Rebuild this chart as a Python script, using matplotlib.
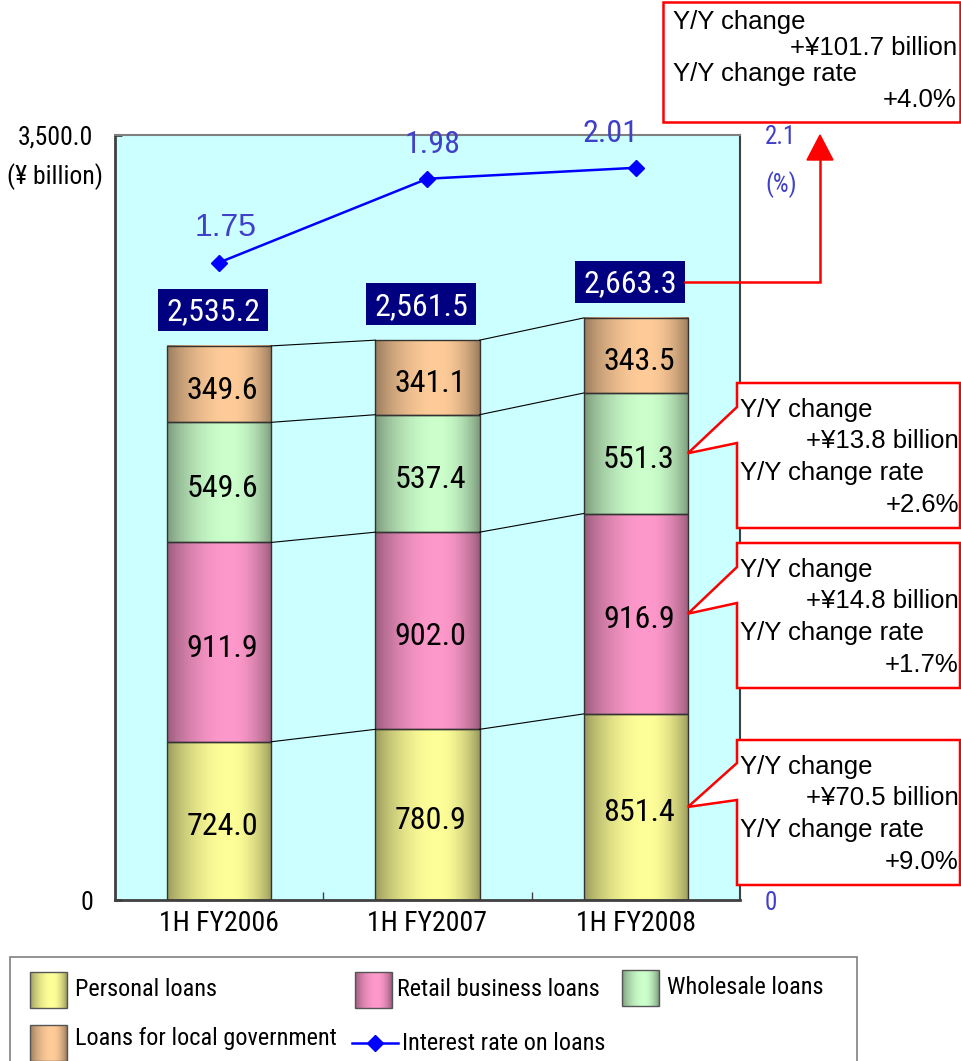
import matplotlib
matplotlib.use("Agg")
import matplotlib.pyplot as plt
import numpy as np
from matplotlib import font_manager
from matplotlib.patches import Rectangle, Polygon

categories = ["1H FY2006", "1H FY2007", "1H FY2008"]
personal = [724.0, 780.9, 851.4]
retail = [911.9, 902.0, 916.9]
wholesale = [549.6, 537.4, 551.3]
local_gov = [349.6, 341.1, 343.5]
totals = [2535.2, 2561.5, 2663.3]
rates = [1.75, 1.98, 2.01]

series_names = ["Personal loans", "Retail business loans", "Wholesale loans",
                "Loans for local government"]
series_colors = ["#FFFF99", "#FF99CC", "#CCFFCC", "#FFCC99"]
line_name = "Interest rate on loans"

# year-on-year notes for the latest half
total_note = ["+\u00a5101.7 billion", "+4.0%"]
wholesale_note = ["+\u00a513.8 billion", "+2.6%"]
retail_note = ["+\u00a514.8 billion", "+1.7%"]
personal_note = ["+\u00a570.5 billion", "+9.0%"]

# pick the narrowest sans available for numbers and labels
fonts = font_manager.fontManager.ttflist
names = {f.name for f in fonts}
NARROW = None
for cand in ["Liberation Sans Narrow", "Arial Narrow", "Roboto Condensed",
             "Open Sans Condensed", "Noto Sans Condensed"]:
    if cand in names:
        NARROW = dict(family=cand)
        break
if NARROW is None:
    NARROW = dict(family="DejaVu Sans", stretch="condensed")
SANS = dict(family="Liberation Sans")
BLUE_TXT = "#4040C8"

W, H = 962, 1061


def shade(color, n=80):
    # cylinder-like horizontal shading: dark at both edges, light a bit right of centre
    rgb = np.array(matplotlib.colors.to_rgb(color))
    t = np.linspace(0, 1, n)
    u = np.where(t < 0.6, t / 0.6, (1 - t) / 0.4)
    s = np.sin(u * np.pi / 2) ** 0.8
    k = 0.6 + 0.4 * s
    return (rgb[None, :] * k[:, None])[None, :, :]


fig = plt.figure(figsize=(W / 100, H / 100), dpi=100)
ax = fig.add_axes([115 / W, 1 - 900 / H, 625 / W, 765 / H])
ax.set_facecolor("#CCFFFF")

x = np.arange(len(categories))
bw = 0.5
bottoms = np.zeros(len(categories))
levels = []
for vals, color in zip([personal, retail, wholesale, local_gov], series_colors):
    vals = np.array(vals)
    ax.bar(x, vals, bw, bottom=bottoms, facecolor="none", edgecolor="#333333",
           lw=1, zorder=3)
    for xi, b, v in zip(x, bottoms, vals):
        ax.imshow(shade(color), extent=(xi - bw / 2, xi + bw / 2, b, b + v),
                  aspect="auto", interpolation="bilinear", zorder=2)
        ax.annotate(f"{v:.1f}", (xi, b + v / 2), xytext=(3, -6),
                    textcoords="offset pixels", ha="center", va="center",
                    fontsize=23, zorder=4, **NARROW)
    bottoms = bottoms + vals
    levels.append(bottoms.copy())

# thin connectors between stacked levels of neighbouring bars
for lev in levels:
    for i in range(len(x) - 1):
        ax.plot([x[i] + bw / 2, x[i + 1] - bw / 2], [lev[i], lev[i + 1]],
                color="black", lw=0.8, zorder=3)

ax.set_xlim(-0.5, 2.5)
ax.set_ylim(0, 3500)
ax.set_xticks(x)
ax.set_xticklabels(categories, fontsize=20, **NARROW)
ax.set_xticks([0.5, 1.5], minor=True)
ax.tick_params(axis="x", which="major", length=0, pad=7)
ax.tick_params(axis="x", which="minor", direction="in", length=6, width=1,
               color="#404040")
ax.set_yticks([0, 3500])
ax.set_yticklabels(["0", "3,500.0"], fontsize=18.5, **NARROW)
ax.tick_params(axis="y", direction="in", length=5, width=2, color="#404040",
               pad=16)
for side, c, w in [("left", "#404040", 2), ("bottom", "#404040", 2),
                   ("top", "#808080", 1.5), ("right", "#404040", 1.5)]:
    ax.spines[side].set_color(c)
    ax.spines[side].set_linewidth(w)

ax2 = ax.twinx()
ax2.set_ylim(0, 2.1)
ax2.plot(x, rates, color="#0000FF", lw=1.8, marker="D", ms=8, zorder=5)
offsets = [(6, 34), (5, 34), (-25, 34)]
for xi, r, off in zip(x, rates, offsets):
    fam = SANS if xi == 0 else NARROW
    ax2.annotate(f"{r:.2f}", (xi, r), xytext=off, textcoords="offset pixels",
                 ha="center", va="center", fontsize=23,
                 color=BLUE_TXT, annotation_clip=False, **fam)
ax2.set_yticks([0, 2.1])
ax2.set_yticklabels(["0", "2.1"], fontsize=18, color=BLUE_TXT, **NARROW)
ax2.tick_params(axis="y", length=0, pad=18)
for s in ax2.spines.values():
    s.set_visible(False)

# overlay in image pixel coordinates for notes, boxes and legend
ov = fig.add_axes([0, 0, 1, 1], zorder=10)
ov.patch.set_alpha(0)
ov.axis("off")


def to_px(axis, xv, yv):
    dx, dy = axis.transData.transform((xv, yv))
    return dx, H - dy


fig.text(55 / W, 1 - 177 / H, "(\u00a5 billion)", ha="center", va="center",
         fontsize=18.5, **NARROW)
fig.text(781 / W, 1 - 185 / H, "(%)", ha="center", va="center", fontsize=18,
         color=BLUE_TXT, **NARROW)

# total labels on navy boxes
total_boxes = []
for xi, t in zip(x, totals):
    cx, cy = to_px(ax, xi, t)
    cx, cy = cx - 6, cy - 36
    ov.add_patch(Rectangle((cx - 55, cy - 21), 110, 42, fc="#000080", ec="none"))
    ov.text(cx, cy + 2, f"{t:,.1f}", ha="center", va="center", color="white",
            fontsize=23, **NARROW)
    total_boxes.append((cx, cy))

RED = "#FF0000"
# total change note with arrow
bx, by = total_boxes[-1]
ov.plot([bx + 55, 820, 820], [by, by, 158], color=RED, lw=1.8,
        solid_joinstyle="miter")
ov.add_patch(Polygon([(807, 160), (833, 160), (820, 135)], closed=True,
                     fc=RED, ec=RED, lw=1))
ov.add_patch(Rectangle((663, 2), 297, 120, fc="white", ec=RED, lw=1.8))
for k, (txt, dy) in enumerate(zip(["Y/Y change", total_note[0],
                                   "Y/Y change rate", total_note[1]],
                                  [22, 48, 74, 100])):
    ov.text(673 if k % 2 == 0 else 957, dy, txt, ha="left" if k % 2 == 0 else "right",
            va="center", fontsize=18.5, **SANS)


def callout(top, wtop, wbot, tip, note):
    left, right = 737, 960
    ov.add_patch(Polygon([(left, top), (right, top), (right, top + 145),
                          (left, top + 145), (left, wbot), tip, (left, wtop)],
                         closed=True, fc="white", ec=RED, lw=1.8,
                         joinstyle="miter"))
    lines = ["Y/Y change", note[0], "Y/Y change rate", note[1]]
    for k, (txt, dy) in enumerate(zip(lines, [27, 58, 90, 122])):
        ov.text(740 if k % 2 == 0 else 959, top + dy, txt,
                ha="left" if k % 2 == 0 else "right", va="center",
                fontsize=18.5, **SANS)


mids = [personal[2] / 2,
        personal[2] + retail[2] / 2,
        personal[2] + retail[2] + wholesale[2] / 2]
callout(383, 407, 443, to_px(ax, x[2] + bw / 2, mids[2]), wholesale_note)
callout(543, 567, 603, to_px(ax, x[2] + bw / 2, mids[1]), retail_note)
callout(740, 763, 800, to_px(ax, x[2] + bw / 2, mids[0]), personal_note)

# legend
ov.add_patch(Rectangle((10, 957), 847, 120, fc="white", ec="#808080", lw=1.2))
leg_pos = [(30, 972, 75, 990), (355, 972, 397, 990), (622, 970, 667, 988),
           (30, 1025, 75, 1038)]
for (px, py, tx, ty), name, color in zip(leg_pos, series_names, series_colors):
    ov.imshow(shade(color), extent=(px, px + 37, py + 36, py), aspect="auto",
              interpolation="bilinear", zorder=2)
    ov.add_patch(Rectangle((px, py), 37, 36, fc="none", ec="#555555", lw=1,
                           zorder=3))
    ov.text(tx, ty, name, ha="left", va="center", fontsize=17.5, **NARROW)
ov.plot([352, 398], [1043, 1043], color="#0000FF", lw=1.8)
ov.plot([375], [1043], color="#0000FF", marker="D", ms=8)
ov.text(402, 1043, line_name, ha="left", va="center", fontsize=17.5, **NARROW)

ov.set_xlim(0, W)
ov.set_ylim(H, 0)

fig.savefig("out.png", dpi=100)
